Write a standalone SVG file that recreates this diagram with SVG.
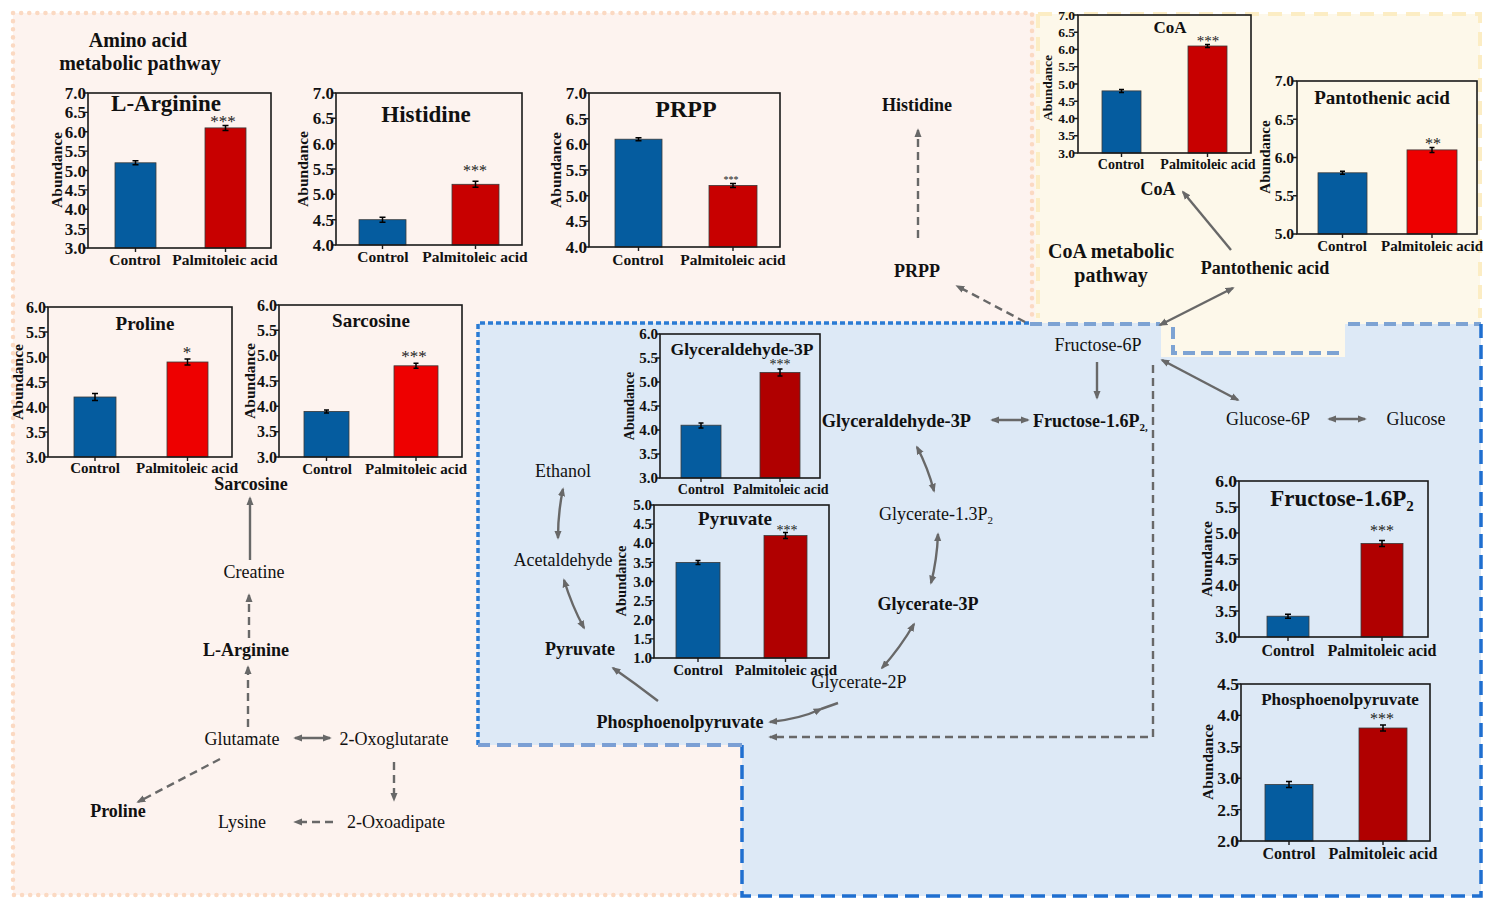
<svg xmlns="http://www.w3.org/2000/svg" width="1495" height="911" viewBox="0 0 1495 911">
<defs>
<style>
text{font-family:"Liberation Serif","Times New Roman",serif;fill:#111}
.b{font-weight:bold}
.ax{fill:none;stroke:#1a1a1a;stroke-width:1.6}
.tk{stroke:#1a1a1a;stroke-width:1.4;fill:none}
.tl{font-weight:bold;text-anchor:end}
.mid{text-anchor:middle}
.c{fill:#055c9f;stroke:#3a3a3a;stroke-width:0.8}
.r1{fill:#c80000;stroke:#3a3a3a;stroke-width:0.8}
.r2{fill:#ee0000;stroke:#3a3a3a;stroke-width:0.8}
.r3{fill:#b00000;stroke:#3a3a3a;stroke-width:0.8}
.eb{stroke:#000;stroke-width:1.5;fill:none}
.st{text-anchor:middle;fill:#222}
.n{font-size:18px}
.ar{fill:none;stroke:#686868;stroke-width:2.4}
.da{stroke-dasharray:8 5}
</style>
<marker id="ah" viewBox="0 0 10 10" refX="8" refY="5" markerWidth="9" markerHeight="9" markerUnits="userSpaceOnUse" orient="auto-start-reverse"><path d="M0,1 L10,5 L0,9 z" fill="#686868"/></marker>
</defs>

<!-- backgrounds -->
<g id="regions">
<rect x="13" y="13" width="1022" height="882" fill="#fdf3ef"/>
<path d="M1035,14 H1480 V325 H1345 V357 H1161 V323 H1035 Z" fill="#fdf8ea"/>
<path d="M478,323 H1161 V357 H1345 V324 H1481 V896 H742 V745 H478 Z" fill="#dde9f6"/>
<path d="M13,13 H1032 V318 M13,13 V895 H738" fill="none" stroke="#fbd9c2" stroke-width="4.5" stroke-linecap="round" stroke-dasharray="0.1 8"/>
<path d="M1038,14 H1480 V318 M1038,14 V318" fill="none" stroke="#fcedc4" stroke-width="4" stroke-dasharray="14 9"/>
<path d="M478,745 V323 H1030" fill="none" stroke="#2a7bd4" stroke-width="3.5" stroke-dasharray="5 3"/>
<path d="M1030,324 H1160 M1173,327 V353 H1340 M1348,324 H1481" fill="none" stroke="#7da3d3" stroke-width="4" stroke-dasharray="12 6"/>
<path d="M1481,324 V896 H742 V745" fill="none" stroke="#1f6fd0" stroke-width="3.5" stroke-dasharray="14 7"/>
<path d="M742,745 H478" fill="none" stroke="#7b9fd4" stroke-width="4" stroke-dasharray="14 7"/>
</g>

<!-- connectors -->
<g id="connectors">
<path class="ar da" d="M918,238 V130" marker-end="url(#ah)"/>
<path class="ar da" d="M1025,322 L957,286" marker-end="url(#ah)"/>
<path class="ar" d="M1231,250 L1183,192" marker-end="url(#ah)"/>
<path class="ar" d="M1160,325 L1233,288" marker-start="url(#ah)" marker-end="url(#ah)"/>
<path class="ar" d="M1097,362 V398" marker-end="url(#ah)"/>
<path class="ar" d="M992,420 H1028" marker-start="url(#ah)" marker-end="url(#ah)"/>
<path class="ar" d="M917,447 Q928,468 934,491" marker-start="url(#ah)" marker-end="url(#ah)"/>
<path class="ar" d="M938,534 Q937,560 931,583" marker-start="url(#ah)" marker-end="url(#ah)"/>
<path class="ar" d="M914,624 Q900,648 882,668" marker-start="url(#ah)" marker-end="url(#ah)"/>
<path class="ar" d="M770,722 Q800,719 821,709" marker-start="url(#ah)" marker-end="url(#ah)"/>
<path class="ar" d="M821,709 L838,703"/>
<path class="ar" d="M658,701 Q636,684 613,668" marker-end="url(#ah)"/>
<path class="ar" d="M584,628 Q572,606 564,580" marker-start="url(#ah)" marker-end="url(#ah)"/>
<path class="ar" d="M558,538 Q558,512 563,489" marker-start="url(#ah)" marker-end="url(#ah)"/>
<path class="ar da" d="M1153,365 V737 H770" marker-end="url(#ah)"/>
<path class="ar" d="M1162,360 L1238,400" marker-start="url(#ah)" marker-end="url(#ah)"/>
<path class="ar" d="M1329,419 H1365" marker-start="url(#ah)" marker-end="url(#ah)"/>
<path class="ar" d="M250,560 V498" marker-end="url(#ah)"/>
<path class="ar da" d="M249,638 V595" marker-end="url(#ah)"/>
<path class="ar da" d="M248,727 V667" marker-end="url(#ah)"/>
<path class="ar" d="M295,738 H330" marker-start="url(#ah)" marker-end="url(#ah)"/>
<path class="ar da" d="M394,762 V800" marker-end="url(#ah)"/>
<path class="ar da" d="M333,822 H295" marker-end="url(#ah)"/>
<path class="ar da" d="M220,759 L138,802" marker-end="url(#ah)"/>
</g>

<!-- pathway nodes -->
<g id="title-amino"><text class="b mid" x="138" y="47" font-size="20">Amino acid</text><text class="b mid" x="140" y="70" font-size="20">metabolic pathway</text></g>
<g id="title-coa"><text class="b mid" x="1111" y="258" font-size="20">CoA metabolic</text><text class="b mid" x="1111" y="282" font-size="20">pathway</text></g>
<g id="n-histidine"><text class="b mid n" x="917" y="111">Histidine</text></g>
<g id="n-prpp"><text class="b mid n" x="917" y="277">PRPP</text></g>
<g id="n-coa"><text class="b mid n" x="1158" y="195">CoA</text></g>
<g id="n-pantothenic"><text class="b mid n" x="1265" y="274">Pantothenic acid</text></g>
<g id="n-fructose6p"><text class="mid n" x="1098" y="351">Fructose-6P</text></g>
<g id="n-fructose16p"><text class="b n" x="1033" y="427">Fructose-1.6P<tspan font-size="11" dy="4">2,</tspan></text></g>
<g id="n-glyceraldehyde"><text class="b" x="971" y="427" text-anchor="end" font-size="18.3">Glyceraldehyde-3P</text></g>
<g id="n-glycerate13"><text class="n" x="879" y="520">Glycerate-1.3P<tspan font-size="11" dy="4">2</tspan></text></g>
<g id="n-glycerate3p"><text class="b mid n" x="928" y="610">Glycerate-3P</text></g>
<g id="n-glycerate2p"><text class="mid n" x="859" y="688">Glycerate-2P</text></g>
<g id="n-pep"><text class="b mid n" x="680" y="728">Phosphoenolpyruvate</text></g>
<g id="n-pyruvate"><text class="b mid n" x="580" y="655">Pyruvate</text></g>
<g id="n-acetaldehyde"><text class="mid n" x="563" y="566">Acetaldehyde</text></g>
<g id="n-ethanol"><text class="mid n" x="563" y="477">Ethanol</text></g>
<g id="n-glucose6p"><text class="mid n" x="1268" y="425">Glucose-6P</text></g>
<g id="n-glucose"><text class="mid n" x="1416" y="425">Glucose</text></g>
<g id="n-sarcosine"><text class="b mid n" x="251" y="490">Sarcosine</text></g>
<g id="n-creatine"><text class="mid n" x="254" y="578">Creatine</text></g>
<g id="n-arginine"><text class="b mid n" x="246" y="656">L-Arginine</text></g>
<g id="n-glutamate"><text class="mid n" x="242" y="745">Glutamate</text></g>
<g id="n-oxoglutarate"><text class="mid n" x="394" y="745">2-Oxoglutarate</text></g>
<g id="n-oxoadipate"><text class="mid n" x="396" y="828">2-Oxoadipate</text></g>
<g id="n-lysine"><text class="mid n" x="242" y="828">Lysine</text></g>
<g id="n-proline"><text class="b mid n" x="118" y="817">Proline</text></g>

<!-- Chart: L-Arginine -->
<g id="chart-arginine">
<rect class="r1" x="205" y="127.9" width="41" height="120.1"/>
<rect class="c" x="115" y="162.8" width="41" height="85.2"/>
<path class="eb" d="M135.5,160.8v4M132.5,160.8h6M132.5,164.8h6M225.5,125.4v5M222.5,125.4h6M222.5,130.4h6"/>
<rect class="ax" x="88" y="93" width="183" height="155"/>
<path class="tk" d="M84,248h4M84,228.6h4M84,209.3h4M84,189.9h4M84,170.5h4M84,151.1h4M84,131.8h4M84,112.4h4M84,93h4M135.5,248v4M225.5,248v4"/>
<g font-size="17" transform="translate(0,6)"><text class="tl" x="86" y="248">3.0</text><text class="tl" x="86" y="228.6">3.5</text><text class="tl" x="86" y="209.3">4.0</text><text class="tl" x="86" y="189.9">4.5</text><text class="tl" x="86" y="170.5">5.0</text><text class="tl" x="86" y="151.1">5.5</text><text class="tl" x="86" y="131.8">6.0</text><text class="tl" x="86" y="112.4">6.5</text><text class="tl" x="86" y="93">7.0</text></g>
<text class="b mid" font-size="15.5" transform="translate(62,170) rotate(-90)">Abundance</text>
<text class="b mid" x="166" y="111" font-size="23">L-Arginine</text>
<text class="st" x="223" y="127" font-size="17">***</text>
<text class="b mid" x="135" y="265" font-size="15.5">Control</text><text class="b mid" x="225" y="265" font-size="15.5">Palmitoleic acid</text>
</g>

<!-- Chart: Histidine -->
<g id="chart-histidine">
<rect class="c" x="359" y="219.7" width="47" height="25.3"/>
<rect class="r1" x="452" y="184.3" width="47" height="60.7"/>
<path class="eb" d="M382.5,217.2v5M379.5,217.2h6M379.5,222.2h6M475.5,181.3v6M472.5,181.3h6M472.5,187.3h6"/>
<rect class="ax" x="336" y="93" width="186" height="152"/>
<path class="tk" d="M332,245h4M332,219.7h4M332,194.3h4M332,169h4M332,143.7h4M332,118.3h4M332,93h4M382.5,245v4M475.5,245v4"/>
<g font-size="17" transform="translate(0,6)"><text class="tl" x="334" y="245">4.0</text><text class="tl" x="334" y="219.7">4.5</text><text class="tl" x="334" y="194.3">5.0</text><text class="tl" x="334" y="169">5.5</text><text class="tl" x="334" y="143.7">6.0</text><text class="tl" x="334" y="118.3">6.5</text><text class="tl" x="334" y="93">7.0</text></g>
<text class="b mid" font-size="15.5" transform="translate(308,169) rotate(-90)">Abundance</text>
<text class="b mid" x="426" y="122" font-size="23">Histidine</text>
<text class="st" x="475" y="176" font-size="16">***</text>
<text class="b mid" x="383" y="262" font-size="15.5">Control</text><text class="b mid" x="475" y="262" font-size="15.5">Palmitoleic acid</text>
</g>

<!-- Chart: PRPP -->
<g id="chart-prpp">
<rect class="c" x="615" y="139.2" width="47" height="107.8"/>
<rect class="r1" x="709" y="185.4" width="48" height="61.6"/>
<path class="eb" d="M638.5,137.7v3M635.5,137.7h6M635.5,140.7h6M733,183.4v4M730,183.4h6M730,187.4h6"/>
<rect class="ax" x="589" y="93" width="191" height="154"/>
<path class="tk" d="M585,247h4M585,221.3h4M585,195.7h4M585,170h4M585,144.3h4M585,118.7h4M585,93h4M638.5,247v4M733,247v4"/>
<g font-size="17" transform="translate(0,6)"><text class="tl" x="587" y="247">4.0</text><text class="tl" x="587" y="221.3">4.5</text><text class="tl" x="587" y="195.7">5.0</text><text class="tl" x="587" y="170">5.5</text><text class="tl" x="587" y="144.3">6.0</text><text class="tl" x="587" y="118.7">6.5</text><text class="tl" x="587" y="93">7.0</text></g>
<text class="b mid" font-size="15.5" transform="translate(561,170) rotate(-90)">Abundance</text>
<text class="b mid" x="686" y="117" font-size="24">PRPP</text>
<text class="st" x="731" y="183" font-size="10">***</text>
<text class="b mid" x="638" y="265" font-size="15.5">Control</text><text class="b mid" x="733" y="265" font-size="15.5">Palmitoleic acid</text>
</g>

<!-- Chart: CoA -->
<g id="chart-coa">
<rect class="c" x="1102" y="90.9" width="39" height="62.1"/>
<rect class="r1" x="1188" y="46" width="39" height="107"/>
<path class="eb" d="M1121.5,89.4v3M1119,89.4h5M1119,92.4h5M1207.5,44.5v3M1205,44.5h5M1205,47.5h5"/>
<rect class="ax" x="1078" y="15" width="173" height="138"/>
<path class="tk" d="M1074,153h4M1074,135.8h4M1074,118.5h4M1074,101.3h4M1074,84h4M1074,66.8h4M1074,49.5h4M1074,32.3h4M1074,15h4M1121.5,153v4M1207.5,153v4"/>
<g font-size="13.5" transform="translate(0,4.7)"><text class="tl" x="1075" y="153">3.0</text><text class="tl" x="1075" y="135.8">3.5</text><text class="tl" x="1075" y="118.5">4.0</text><text class="tl" x="1075" y="101.3">4.5</text><text class="tl" x="1075" y="84">5.0</text><text class="tl" x="1075" y="66.8">5.5</text><text class="tl" x="1075" y="49.5">6.0</text><text class="tl" x="1075" y="32.3">6.5</text><text class="tl" x="1075" y="15">7.0</text></g>
<text class="b mid" font-size="13.5" transform="translate(1052,88) rotate(-90)">Abundance</text>
<text class="b mid" x="1170" y="33" font-size="17">CoA</text>
<text class="st" x="1208" y="46" font-size="15">***</text>
<text class="b mid" x="1121" y="169" font-size="14">Control</text><text class="b mid" x="1208" y="169" font-size="14">Palmitoleic acid</text>
</g>

<!-- Chart: Pantothenic acid -->
<g id="chart-pantothenic">
<rect class="c" x="1318" y="172.8" width="49" height="61.2"/>
<rect class="r2" x="1407" y="149.9" width="50" height="84.1"/>
<path class="eb" d="M1342.5,171.3v3M1340,171.3h5M1340,174.3h5M1432,147.4v5M1429.5,147.4h5M1429.5,152.4h5"/>
<rect class="ax" x="1297" y="81" width="180" height="153"/>
<path class="tk" d="M1293,234h4M1293,195.8h4M1293,157.5h4M1293,119.3h4M1293,81h4M1342.5,234v4M1432,234v4"/>
<g font-size="15.5" transform="translate(0,5.4)"><text class="tl" x="1294" y="234">5.0</text><text class="tl" x="1294" y="195.8">5.5</text><text class="tl" x="1294" y="157.5">6.0</text><text class="tl" x="1294" y="119.3">6.5</text><text class="tl" x="1294" y="81">7.0</text></g>
<text class="b mid" font-size="15" transform="translate(1270,157) rotate(-90)">Abundance</text>
<text class="b mid" x="1382" y="104" font-size="19">Pantothenic acid</text>
<text class="st" x="1433" y="149" font-size="16">**</text>
<text class="b mid" x="1342" y="251" font-size="15">Control</text><text class="b mid" x="1432" y="251" font-size="15">Palmitoleic acid</text>
</g>

<!-- Chart: Proline -->
<g id="chart-proline">
<rect class="c" x="74" y="397" width="42" height="60"/>
<rect class="r2" x="167" y="362" width="41" height="95"/>
<path class="eb" d="M95,393.5v7M92,393.5h6M92,400.5h6M187.5,359v6M184.5,359h6M184.5,365h6"/>
<rect class="ax" x="48" y="307" width="184" height="150"/>
<path class="tk" d="M44,457h4M44,432h4M44,407h4M44,382h4M44,357h4M44,332h4M44,307h4M95,457v4M187.5,457v4"/>
<g font-size="16" transform="translate(0,5.6)"><text class="tl" x="46" y="457">3.0</text><text class="tl" x="46" y="432">3.5</text><text class="tl" x="46" y="407">4.0</text><text class="tl" x="46" y="382">4.5</text><text class="tl" x="46" y="357">5.0</text><text class="tl" x="46" y="332">5.5</text><text class="tl" x="46" y="307">6.0</text></g>
<text class="b mid" font-size="15.5" transform="translate(23,382) rotate(-90)">Abundance</text>
<text class="b mid" x="145" y="330" font-size="19">Proline</text>
<text class="st" x="187" y="358" font-size="17">*</text>
<text class="b mid" x="95" y="473" font-size="15">Control</text><text class="b mid" x="187" y="473" font-size="15">Palmitoleic acid</text>
</g>

<!-- Chart: Sarcosine -->
<g id="chart-sarcosine">
<rect class="c" x="304" y="411.4" width="45" height="45.6"/>
<rect class="r2" x="394" y="365.8" width="44" height="91.2"/>
<path class="eb" d="M326.5,410v3M324,410h5M324,413h5M416,363.3v5M413.5,363.3h5M413.5,368.3h5"/>
<rect class="ax" x="279" y="305" width="183" height="152"/>
<path class="tk" d="M275,457h4M275,431.7h4M275,406.3h4M275,381h4M275,355.7h4M275,330.3h4M275,305h4M326.5,457v4M416,457v4"/>
<g font-size="16" transform="translate(0,5.6)"><text class="tl" x="277" y="457">3.0</text><text class="tl" x="277" y="431.7">3.5</text><text class="tl" x="277" y="406.3">4.0</text><text class="tl" x="277" y="381">4.5</text><text class="tl" x="277" y="355.7">5.0</text><text class="tl" x="277" y="330.3">5.5</text><text class="tl" x="277" y="305">6.0</text></g>
<text class="b mid" font-size="15.5" transform="translate(255,381) rotate(-90)">Abundance</text>
<text class="b mid" x="371" y="327" font-size="19">Sarcosine</text>
<text class="st" x="414" y="362" font-size="17">***</text>
<text class="b mid" x="327" y="474" font-size="15">Control</text><text class="b mid" x="416" y="474" font-size="15">Palmitoleic acid</text>
</g>

<!-- Chart: Glyceraldehyde-3P -->
<g id="chart-glyceraldehyde">
<rect class="c" x="681" y="425.2" width="40" height="52.8"/>
<rect class="r3" x="760" y="372.4" width="40" height="105.6"/>
<path class="eb" d="M701,423v5M698.5,423h5M698.5,428h5M780,368.9v7M777.5,368.9h5M777.5,375.9h5"/>
<rect class="ax" x="660" y="334" width="160" height="144"/>
<path class="tk" d="M656,478h4M656,454h4M656,430h4M656,406h4M656,382h4M656,358h4M656,334h4M701,478v4M780,478v4"/>
<g font-size="15" transform="translate(0,5.2)"><text class="tl" x="658" y="478">3.0</text><text class="tl" x="658" y="454">3.5</text><text class="tl" x="658" y="430">4.0</text><text class="tl" x="658" y="406">4.5</text><text class="tl" x="658" y="382">5.0</text><text class="tl" x="658" y="358">5.5</text><text class="tl" x="658" y="334">6.0</text></g>
<text class="b mid" font-size="14" transform="translate(634,406) rotate(-90)">Abundance</text>
<text class="b mid" x="742" y="355" font-size="17.5">Glyceraldehyde-3P</text>
<text class="st" x="780" y="369" font-size="14">***</text>
<text class="b mid" x="701" y="494" font-size="14">Control</text><text class="b mid" x="781" y="494" font-size="14">Palmitoleic acid</text>
</g>

<!-- Chart: Pyruvate -->
<g id="chart-pyruvate">
<rect class="c" x="676" y="562.4" width="44" height="95.6"/>
<rect class="r3" x="764" y="535.6" width="43" height="122.4"/>
<path class="eb" d="M698,560.4v4M695.5,560.4h5M695.5,564.4h5M785.5,532.6v6M783,532.6h5M783,538.6h5"/>
<rect class="ax" x="654" y="505" width="175" height="153"/>
<path class="tk" d="M650,658h4M650,638.9h4M650,619.8h4M650,600.6h4M650,581.5h4M650,562.4h4M650,543.3h4M650,524.1h4M650,505h4M698,658v4M785.5,658v4"/>
<g font-size="15" transform="translate(0,5.2)"><text class="tl" x="652" y="658">1.0</text><text class="tl" x="652" y="638.9">1.5</text><text class="tl" x="652" y="619.8">2.0</text><text class="tl" x="652" y="600.6">2.5</text><text class="tl" x="652" y="581.5">3.0</text><text class="tl" x="652" y="562.4">3.5</text><text class="tl" x="652" y="543.3">4.0</text><text class="tl" x="652" y="524.1">4.5</text><text class="tl" x="652" y="505">5.0</text></g>
<text class="b mid" font-size="14.5" transform="translate(626,581) rotate(-90)">Abundance</text>
<text class="b mid" x="735" y="525" font-size="19">Pyruvate</text>
<text class="st" x="787" y="535" font-size="14">***</text>
<text class="b mid" x="698" y="675" font-size="15">Control</text><text class="b mid" x="786" y="675" font-size="15">Palmitoleic acid</text>
</g>

<!-- Chart: Fructose-1.6P2 -->
<g id="chart-fructose">
<rect class="c" x="1267" y="616.2" width="42" height="20.8"/>
<rect class="r3" x="1361" y="543.4" width="42" height="93.6"/>
<path class="eb" d="M1288,614.2v4M1285,614.2h6M1285,618.2h6M1382,540.4v6M1379,540.4h6M1379,546.4h6"/>
<rect class="ax" x="1239" y="481" width="189" height="156"/>
<path class="tk" d="M1235,637h4M1235,611h4M1235,585h4M1235,559h4M1235,533h4M1235,507h4M1235,481h4M1288,637v4M1382,637v4"/>
<g font-size="17.5" transform="translate(0,6.1)"><text class="tl" x="1237" y="637">3.0</text><text class="tl" x="1237" y="611">3.5</text><text class="tl" x="1237" y="585">4.0</text><text class="tl" x="1237" y="559">4.5</text><text class="tl" x="1237" y="533">5.0</text><text class="tl" x="1237" y="507">5.5</text><text class="tl" x="1237" y="481">6.0</text></g>
<text class="b mid" font-size="15.5" transform="translate(1212,559) rotate(-90)">Abundance</text>
<text class="b mid" x="1342" y="506" font-size="23">Fructose-1.6P<tspan font-size="15" dy="5">2</tspan></text>
<text class="st" x="1382" y="536" font-size="16">***</text>
<text class="b mid" x="1288" y="656" font-size="16">Control</text><text class="b mid" x="1382" y="656" font-size="16">Palmitoleic acid</text>
</g>

<!-- Chart: Phosphoenolpyruvate -->
<g id="chart-pep">
<rect class="c" x="1265" y="784.5" width="48" height="56.5"/>
<rect class="r3" x="1359" y="728" width="48" height="113"/>
<path class="eb" d="M1289,781.5v6M1286,781.5h6M1286,787.5h6M1383,725v6M1380,725h6M1380,731h6"/>
<rect class="ax" x="1241" y="684" width="189" height="157"/>
<path class="tk" d="M1237,841h4M1237,809.6h4M1237,778.2h4M1237,746.8h4M1237,715.4h4M1237,684h4M1289,841v4M1383,841v4"/>
<g font-size="17.5" transform="translate(0,6.1)"><text class="tl" x="1239" y="841">2.0</text><text class="tl" x="1239" y="809.6">2.5</text><text class="tl" x="1239" y="778.2">3.0</text><text class="tl" x="1239" y="746.8">3.5</text><text class="tl" x="1239" y="715.4">4.0</text><text class="tl" x="1239" y="684">4.5</text></g>
<text class="b mid" font-size="15.5" transform="translate(1213,762) rotate(-90)">Abundance</text>
<text class="b mid" x="1340" y="705" font-size="17">Phosphoenolpyruvate</text>
<text class="st" x="1382" y="724" font-size="16">***</text>
<text class="b mid" x="1289" y="859" font-size="16">Control</text><text class="b mid" x="1383" y="859" font-size="16">Palmitoleic acid</text>
</g>
</svg>
